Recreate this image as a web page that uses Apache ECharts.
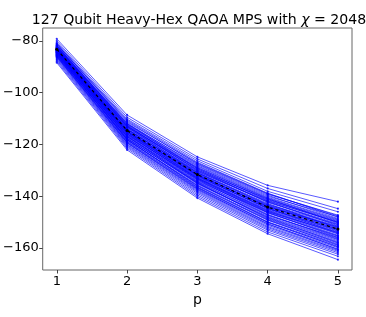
<!DOCTYPE html>
<html><head><meta charset="utf-8">
<script src="https://cdn.jsdelivr.net/npm/echarts@6/dist/echarts.min.js"></script>
<style>html,body{margin:0;padding:0;background:#fff}#c{width:366px;height:317px}</style>
</head><body><div id="c"></div>
<script>
const pValues = [1, 2, 3, 4, 5];
// energy of each instance at each p
const energyP1 = [-79.2,-80.0,-80.6,-81.0,-81.3,-81.6,-81.9,-82.1,-82.3,-82.5,-82.6,-82.8,-82.9,-83.0,-83.1,-83.2,-83.3,-83.4,-83.5,-83.6,-83.7,-83.8,-83.9,-84.0,-84.1,-84.2,-84.3,-84.4,-84.5,-84.6,-84.7,-84.9,-85.0,-85.2,-85.4,-85.6,-85.8,-86.0,-86.3,-86.6,-87.0,-87.4,-87.9,-88.4,
  -81.2,-81.8,-82.4,-82.7,-83.0,-83.4,-83.7,-84.0,-84.3,-84.6,-85.0,-85.3,-85.7,-86.1,-82.0,-83.5];
const energyP2 = [-108.6,-109.5,-110.2,-111.0,-110.6,-111.8,-112.1,-112.5,-111.9,-113.0,-112.8,-113.4,-113.9,-113.2,-114.1,-114.4,-114.0,-114.8,-115.1,-114.6,-115.4,-115.7,-115.2,-116.0,-116.3,-115.9,-116.6,-116.9,-117.2,-116.8,-117.5,-117.8,-118.1,-118.4,-118.0,-118.9,-119.2,-119.5,-119.9,-120.2,-120.6,-121.0,-121.5,-122.1,
  -111.4,-112.3,-113.1,-113.6,-114.2,-114.9,-115.3,-115.8,-116.4,-117.0,-117.6,-118.2,-118.7,-119.3,-112.7,-115.0];
const energyP3 = [-124.8,-125.6,-126.3,-127.5,-126.9,-128.2,-127.8,-128.9,-129.4,-129.0,-130.1,-129.7,-130.5,-130.9,-131.2,-130.8,-131.6,-131.9,-132.3,-132.0,-132.7,-132.5,-133.1,-133.4,-133.0,-133.8,-134.1,-133.6,-134.5,-134.9,-135.2,-134.7,-135.6,-136.0,-136.4,-136.8,-137.1,-137.6,-138.0,-138.4,-138.9,-139.5,-140.1,-140.7,
  -127.2,-128.5,-129.3,-130.3,-131.0,-131.4,-132.1,-132.9,-133.3,-134.3,-135.0,-135.9,-136.6,-137.3,-129.9,-131.8];
const energyP4 = [-135.8,-137.0,-138.1,-139.2,-138.8,-140.0,-139.6,-140.7,-141.3,-140.9,-141.8,-142.4,-142.0,-143.1,-143.5,-142.8,-144.0,-143.7,-144.4,-144.9,-145.2,-144.6,-145.6,-146.0,-145.8,-146.5,-146.2,-147.0,-147.4,-147.8,-148.1,-148.6,-148.9,-149.3,-149.9,-150.2,-150.8,-151.2,-151.7,-152.1,-152.6,-153.1,-153.8,-154.5,
  -139.0,-140.4,-141.6,-142.2,-143.3,-144.2,-144.7,-145.4,-146.3,-147.2,-148.3,-149.1,-150.0,-150.6,-141.1,-143.9];
const energyP5 = [-142.1,-144.8,-146.0,-147.3,-148.1,-147.9,-148.6,-149.2,-149.8,-150.3,-150.0,-150.9,-151.4,-151.0,-152.0,-152.5,-151.8,-152.9,-153.3,-153.0,-153.8,-154.2,-154.6,-154.0,-155.1,-155.5,-155.9,-156.3,-156.0,-156.8,-157.2,-157.6,-158.1,-158.5,-159.0,-159.4,-159.9,-160.4,-160.9,-161.3,-161.8,-162.4,-163.2,-164.5,
  -147.6,-148.9,-150.1,-150.6,-151.6,-152.7,-153.5,-154.4,-155.3,-156.6,-157.9,-158.8,-159.6,-160.6,-149.5,-152.2];
const meanEnergy = [-83.2, -114.6, -131.6, -144.2, -152.7];
const xTicks = [1, 2, 3, 4, 5];
const yTicks = [-160, -140, -120, -100, -80];

const FONT = 'DejaVu Sans';
const series = [];
for (let i = 0; i < energyP1.length; i++) {
  const vals = [energyP1[i], energyP2[i], energyP3[i], energyP4[i], energyP5[i]];
  series.push({
    type: 'line',
    data: pValues.map((p, k) => [p, vals[k]]),
    symbol: 'circle', symbolSize: 2.2,
    itemStyle: { color: 'rgba(0,0,255,0.8)' },
    lineStyle: { color: 'rgba(0,0,255,0.65)', width: 1 },
    silent: true, animation: false, z: 2
  });
}
series.push({
  type: 'line',
  data: pValues.map((p, k) => [p, meanEnergy[k]]),
  symbol: 'circle', symbolSize: 3,
  itemStyle: { color: '#000' },
  lineStyle: { color: '#000', width: 1.2, type: [3, 3] },
  silent: true, animation: false, z: 5
});

const chart = echarts.init(document.getElementById('c'), null, { renderer: 'canvas' });
const minus = v => String(v).replace('-', '\u2212');
chart.setOption({
  animation: false,
  backgroundColor: '#fff',
  title: {
    text: '{n|127 Qubit Heavy-Hex QAOA MPS with }{i|χ}{n| = 2048}',
    left: 194, textAlign: 'center', top: 8,
    textStyle: { fontWeight: 'normal', rich: {
      n: { fontFamily: FONT, fontSize: 14.1, fontWeight: 'normal', color: '#000' },
      i: { fontFamily: FONT, fontSize: 14.1, fontWeight: 'normal', fontStyle: 'italic', color: '#000' }
    } }
  },
  grid: { left: 39, right: 14, top: 28, bottom: 47, show: true, borderColor: '#666', borderWidth: 1, backgroundColor: 'transparent' },
  xAxis: {
    type: 'value', min: 0.8, max: 5.2,
    name: 'p', nameLocation: 'middle', nameGap: 23,
    nameTextStyle: { fontFamily: FONT, fontSize: 14, color: '#000' },
    axisLine: { show: false },
    axisTick: { show: true, customValues: xTicks, length: 3.5, lineStyle: { color: '#444' } },
    axisLabel: { customValues: xTicks, fontFamily: FONT, fontSize: 13, color: '#000', margin: 5 },
    splitLine: { show: false }
  },
  yAxis: {
    type: 'value', min: -168.5, max: -75,
    axisLine: { show: false },
    axisTick: { show: true, customValues: yTicks, length: 3.5, lineStyle: { color: '#444' } },
    axisLabel: { customValues: yTicks, fontFamily: FONT, fontSize: 13, color: '#000', margin: 4, formatter: minus },
    splitLine: { show: false }
  },
  series: series
});
</script>
</body></html>
